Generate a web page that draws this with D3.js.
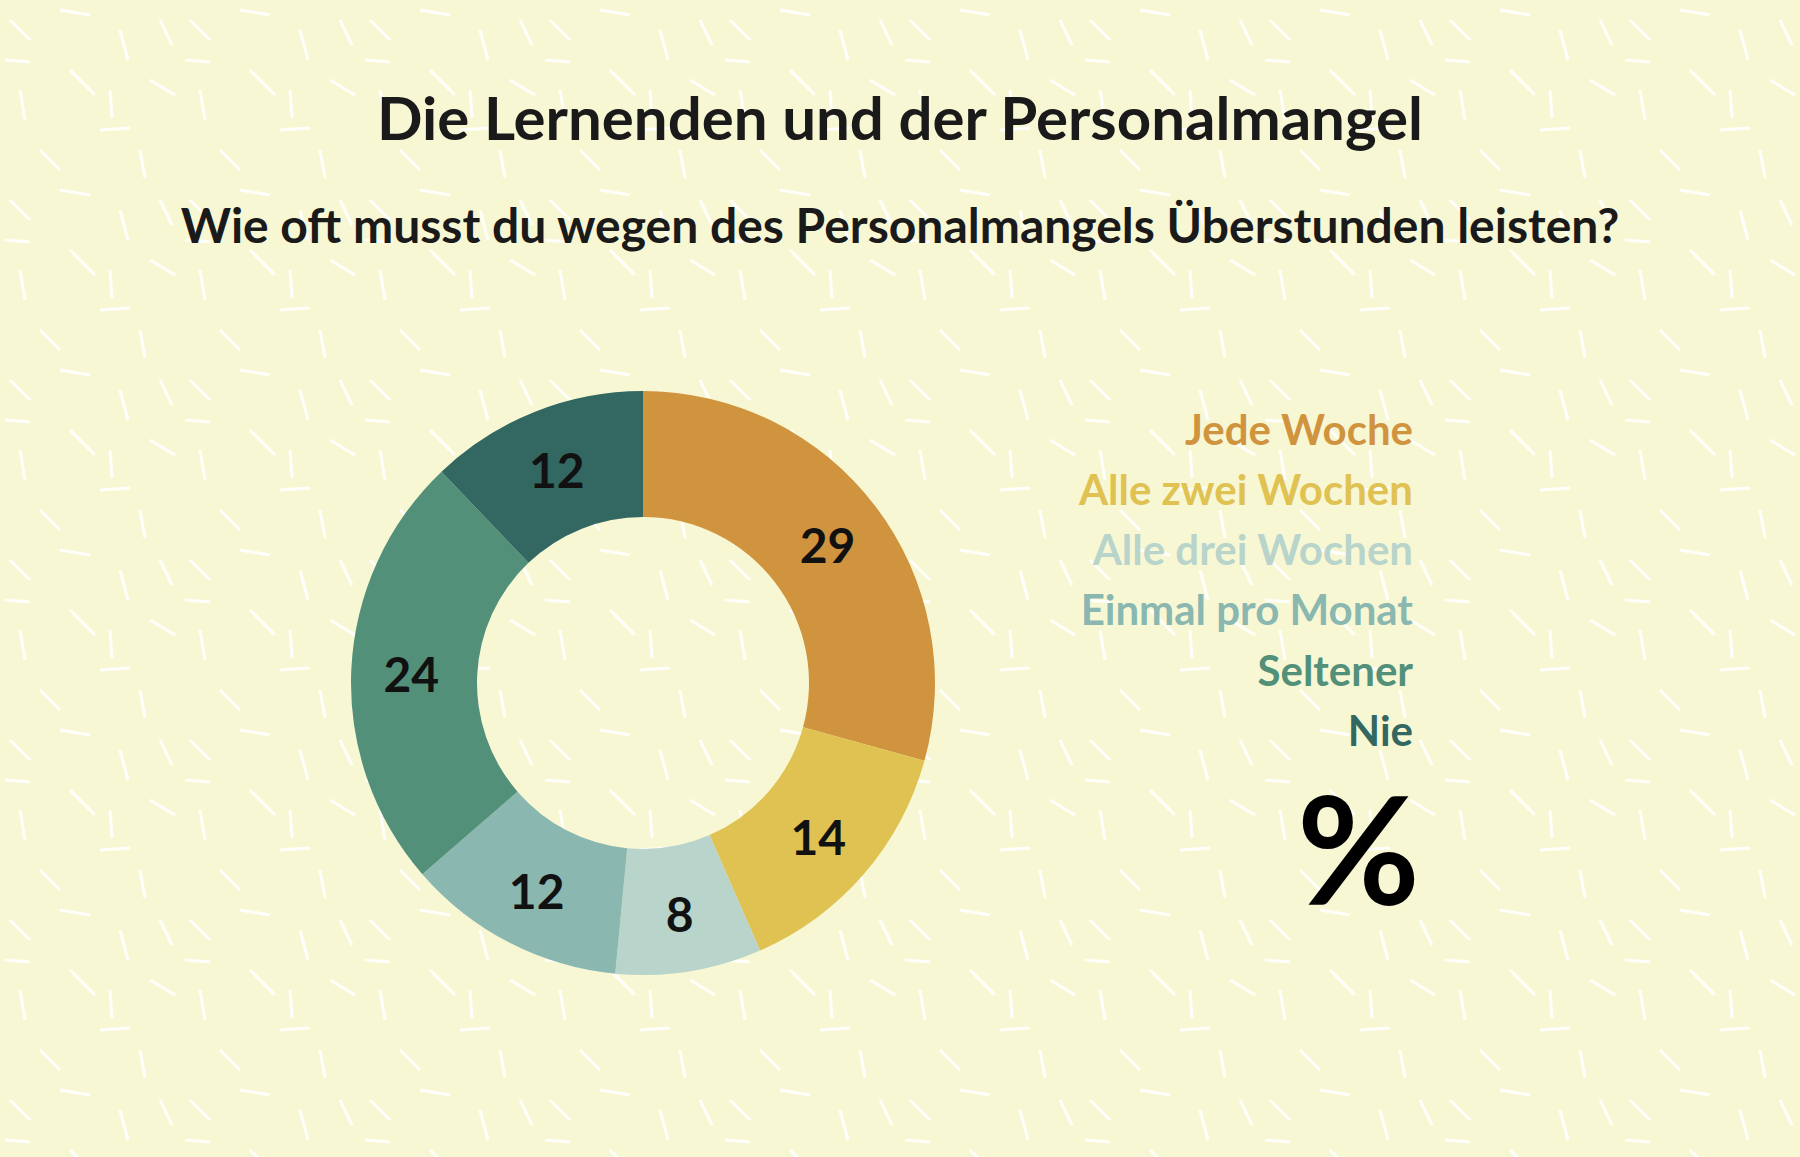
<!DOCTYPE html>
<html><head><meta charset="utf-8">
<script src="https://cdn.jsdelivr.net/npm/d3@7"></script>
<style>body{margin:0;background:#F8F7D4}svg{display:block}</style>
</head><body>
<script>
const categories = ["Jede Woche","Alle zwei Wochen","Alle drei Wochen","Einmal pro Monat","Seltener","Nie"];
const values = [29,14,8,12,24,12];
const colors = ["#D0943F","#DFC252","#B8D4CB","#8AB8B1","#52907A","#326762"];
const title = "Die Lernenden und der Personalmangel";
const subtitle = "Wie oft musst du wegen des Personalmangels Überstunden leisten?";

const W=1800,H=1157;
const svg=d3.select("body").append("svg").attr("width",W).attr("height",H);
const defs=svg.append("defs");
const pat=defs.append("pattern").attr("id","dash").attr("patternUnits","userSpaceOnUse").attr("width",180).attr("height",180);
const dashes=[[10,20,30,40],[60,10,90,15],[120,30,128,60],[150,80,175,95],[20,90,25,120],[70,70,95,95],[100,130,130,128],[40,150,60,170],[140,150,145,178],[160,20,172,45],[5,60,30,62],[110,90,112,118]];
dashes.forEach(d=>pat.append("line").attr("x1",d[0]).attr("y1",d[1]).attr("x2",d[2]).attr("y2",d[3]).attr("stroke","#fff").attr("stroke-width",3).attr("opacity",0.9));
svg.append("rect").attr("width",W).attr("height",H).attr("fill","#F8F7D4");
svg.append("rect").attr("width",W).attr("height",H).attr("fill","url(#dash)");

const font="Lato, 'Open Sans', sans-serif";
svg.append("text").attr("x",900).attr("y",140).attr("text-anchor","middle").attr("font-family",font).attr("font-weight",700).attr("font-size",60).attr("fill","#1a1a1a").text(title);
svg.append("text").attr("x",900).attr("y",243).attr("text-anchor","middle").attr("font-family",font).attr("font-weight",700).attr("font-size",48).attr("fill","#1a1a1a").text(subtitle);

const cx=643,cy=683,R=292,r=166;
const pie=d3.pie().sort(null).value(d=>d)(values);
const arc=d3.arc().innerRadius(r).outerRadius(R);
const g=svg.append("g").attr("transform",`translate(${cx},${cy})`);
g.selectAll("path").data(pie).join("path").attr("d",arc).attr("fill",(d,i)=>colors[i]);
const lr=(r+R)/2+3;
const lab=d3.arc().innerRadius(lr).outerRadius(lr);
g.selectAll("text").data(pie).join("text").attr("transform",d=>`translate(${lab.centroid(d)})`)
 .attr("text-anchor","middle").attr("dy","0.42em").attr("font-family",font).attr("font-weight",700).attr("font-size",48).attr("fill","#111").text(d=>d.data);

const y=d3.scalePoint().domain(categories).range([430,731]);
svg.append("g").selectAll("text").data(categories).join("text").attr("x",1413).attr("y",d=>y(d)).attr("dy","0.35em")
 .attr("text-anchor","end").attr("font-family",font).attr("font-weight",700).attr("font-size",42).attr("fill",(d,i)=>colors[i]).text(d=>d);
svg.append("text").attr("x",1420).attr("y",905).attr("text-anchor","end").attr("font-family",font).attr("font-weight",700).attr("font-size",150).attr("fill","#000").text("%");
</script>
</body></html>
